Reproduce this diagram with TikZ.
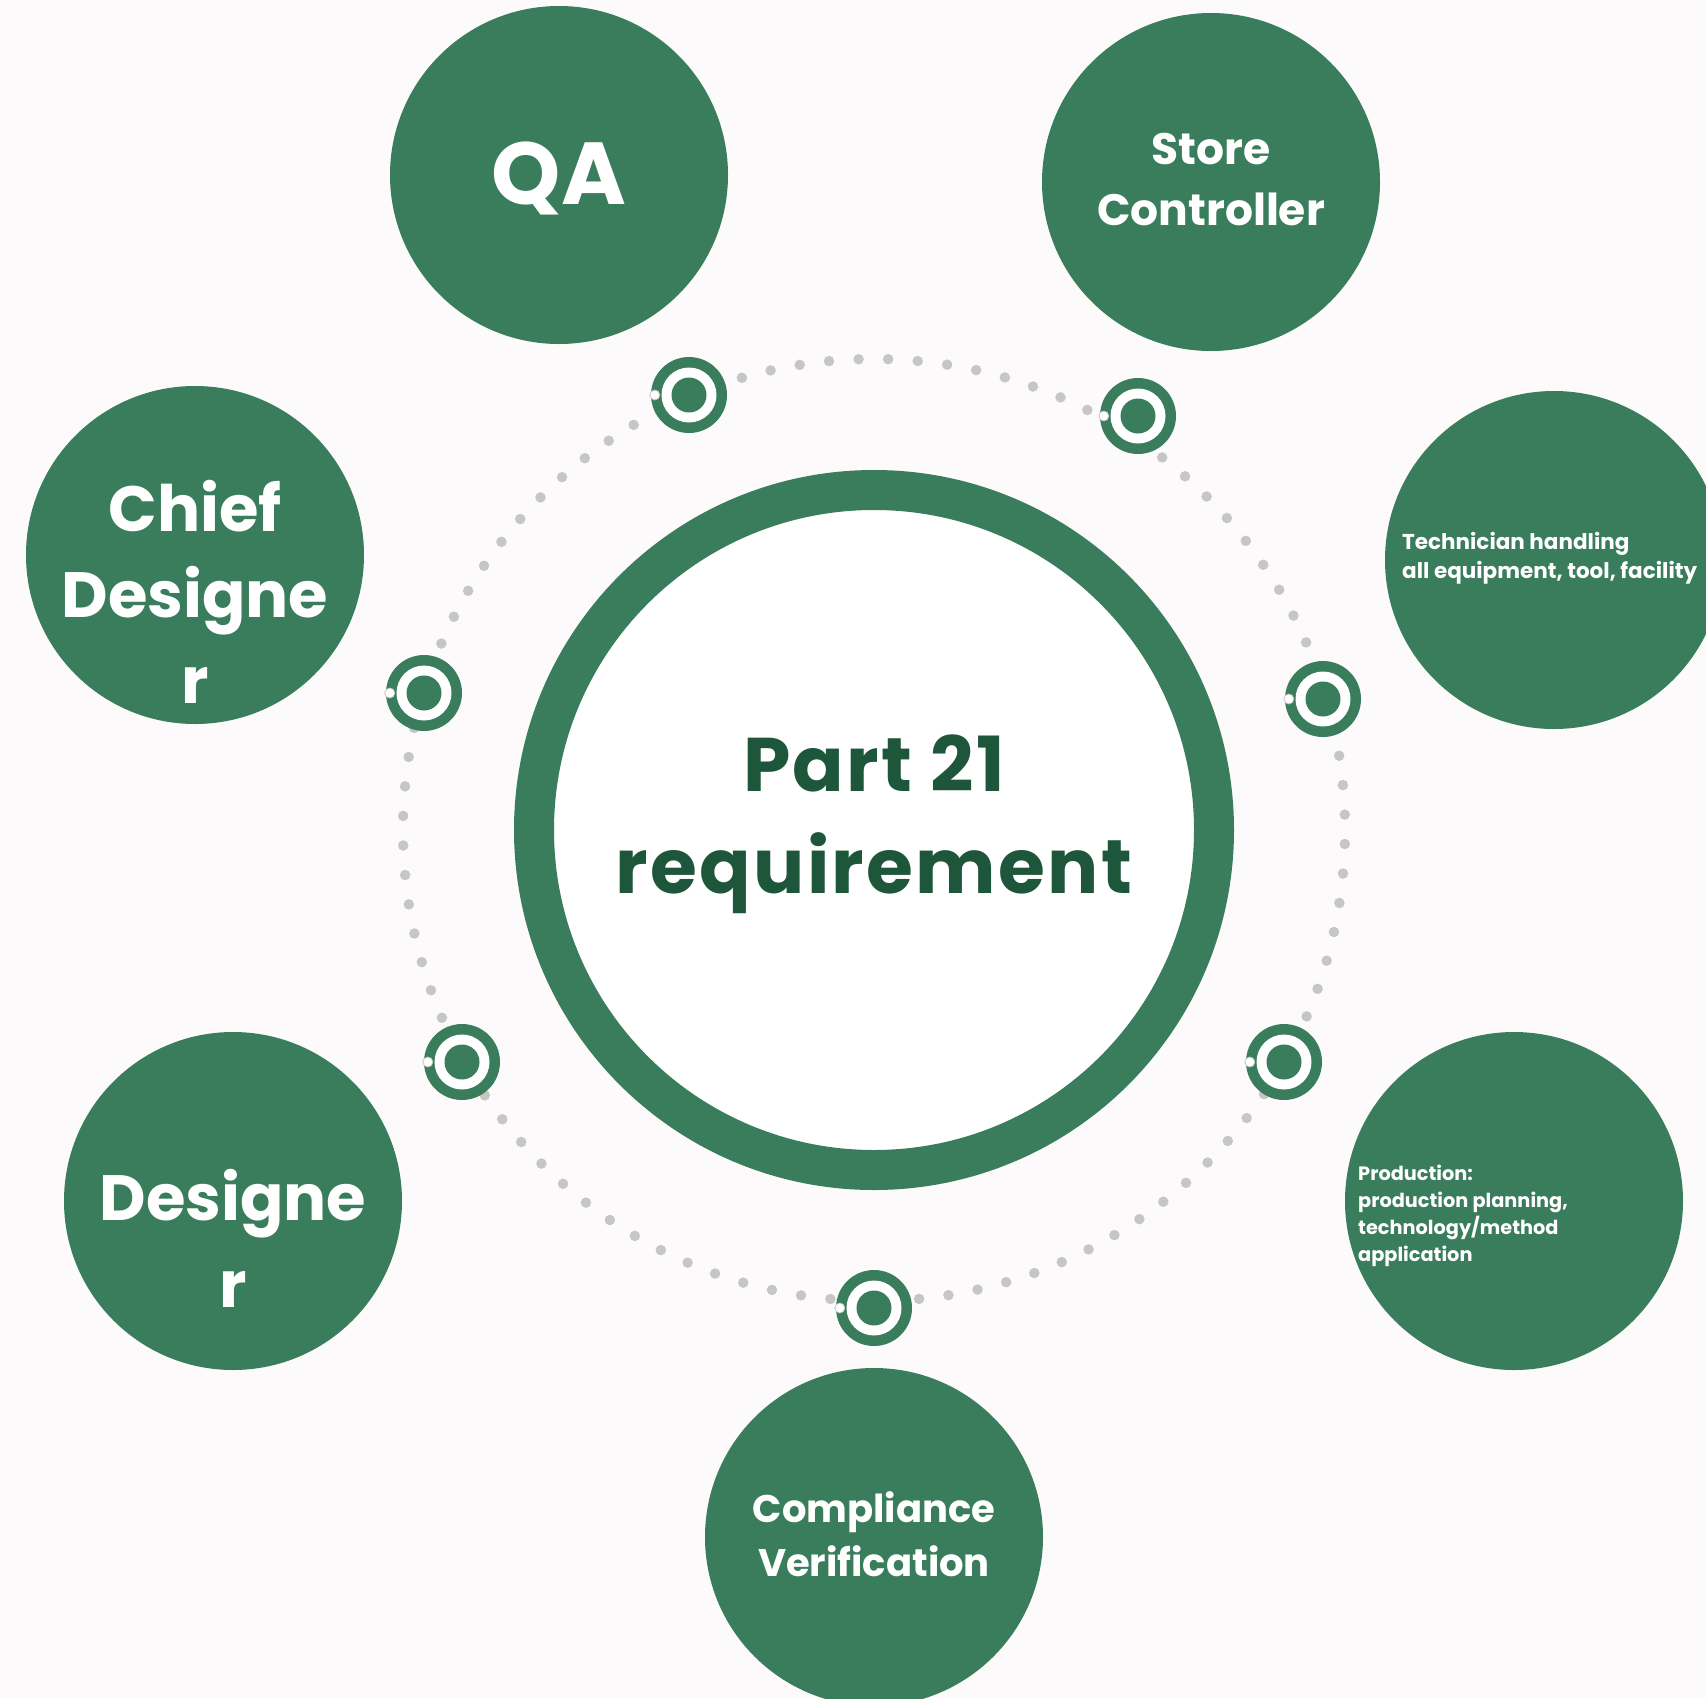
\documentclass[tikz,border=0pt]{standalone}
\usepackage{fontspec}
\setmainfont{Poppins}
\newfontfamily\spacedfont{Poppins}[LetterSpace=3]
\usetikzlibrary{calc}
\definecolor{pgreen}{HTML}{3A7D5C}
\definecolor{pdark}{HTML}{1E563B}
\definecolor{pgray}{HTML}{C6C6C6}
\definecolor{pbg}{HTML}{FCFAFB}
\begin{document}
\begin{tikzpicture}[x=1pt,y=-1pt,
  role/.style={circle, fill=pgreen, minimum size=338pt, inner sep=0pt},
  lbl/.style={text=white, font=\bfseries, align=center, inner sep=0pt},
  marker/.style={circle, fill=pgreen, minimum size=76pt, inner sep=0pt},
  ringwhite/.style={circle, fill=white, minimum size=55pt, inner sep=0pt},
  ringcore/.style={circle, fill=pgreen, minimum size=35pt, inner sep=0pt},
  pin/.style={circle, fill=white, draw=pgray, line width=0.8pt, minimum size=10pt, inner sep=0pt},
]
\fill[pbg] (0,0) rectangle (1706,1698);
\useasboundingbox (0,0) rectangle (1706,1698);
\clip (0,0) rectangle (1706,1698);

% dotted orbit
\coordinate (ctr) at (874,830);
\draw[pgray, line width=10.5pt, line cap=round, dash pattern=on 0pt off 29.6pt, dash phase=-14pt] (ctr) circle (471);

% central ring
\node[circle, draw=pgreen, line width=40pt, fill=white, minimum size=680pt, inner sep=0pt] (core) at (ctr) {};
\node[text=pdark, font=\fontsize{76}{102}\selectfont\spacedfont\bfseries, align=center, inner sep=0pt] (coretxt) at (874,824) {Part 21\\requirement};

% role circles
\node[role] (qa) at (559,175) {};
\node[role] (store) at (1211,182) {};
\node[role] (tech) at (1554,560) {};
\node[role] (chief) at (195,555) {};
\node[role] (des) at (233,1201) {};
\node[role] (prod) at (1514,1201) {};
\node[role] (comp) at (874,1537) {};

\node[lbl, font=\fontsize{88}{100}\selectfont\bfseries] (qatxt) at (559,178) {QA};
\node[lbl, font=\fontsize{44}{61}\selectfont\bfseries] (storetxt) at (1211,180) {Store\\Controller};
\node[lbl, font=\fontsize{64}{86}\selectfont\bfseries] (chieftxt) at (195,592) {Chief\\Designe\\r};
\node[lbl, font=\fontsize{64}{87}\selectfont\bfseries] (destxt) at (233,1238) {Designe\\r};
\node[lbl, font=\fontsize{38.5}{54}\selectfont\bfseries] (comptxt) at (874,1534) {Compliance\\Verification};
\node[lbl, align=left, anchor=west, font=\fontsize{21.5}{29.5}\selectfont\bfseries] (techtxt) at (1402,558) {Technician handling\\all equipment, tool, facility};
\node[lbl, align=left, anchor=west, font=\fontsize{19.3}{27}\selectfont\bfseries] (prodtxt) at (1358,1216) {Production:\\production planning,\\technology/method\\application};

% markers
\foreach \n/\p in {m1/{(689,395)}, m2/{(1138,416)}, m3/{(1323,699)}, m4/{(1284,1062)}, m5/{(874,1308)}, m6/{(462,1062)}, m7/{(424,693)}} {
  \node[marker] (\n) at \p {};
  \node[ringwhite] (\n w) at (\n) {};
  \node[ringcore] (\n c) at (\n) {};
  \node[pin] (\n p) at ($(\n.west)+(4,0)$) {};
}
\end{tikzpicture}
\end{document}
